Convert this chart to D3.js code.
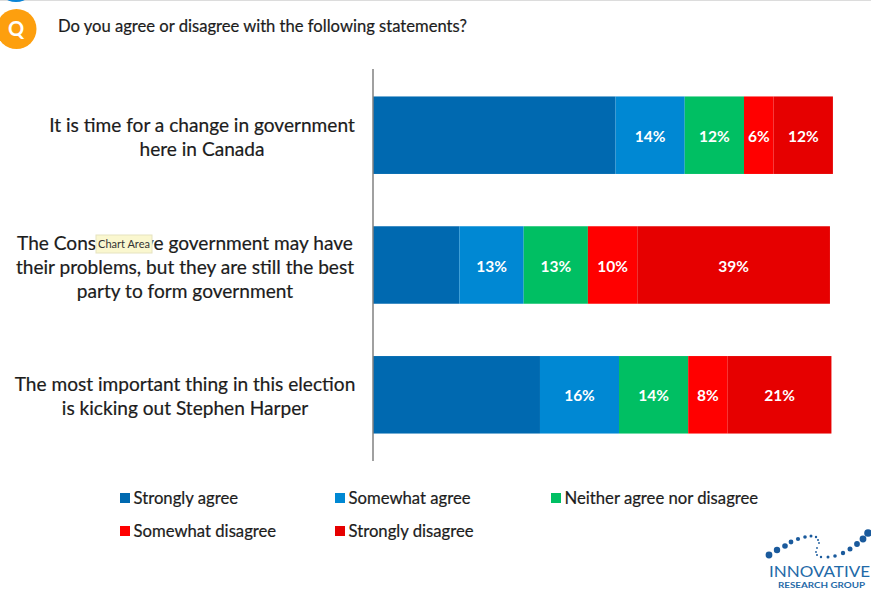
<!DOCTYPE html>
<html>
<head>
<meta charset="utf-8">
<script src="https://cdn.jsdelivr.net/npm/d3@7"></script>
<style>
html, body { margin: 0; padding: 0; background: #fff; }
svg { display: block; }
text { font-family: Lato, "Open Sans", sans-serif; }
.dark { fill: #1c1c1c; stroke: #1c1c1c; stroke-width: 0.2px; }
</style>
</head>
<body>
<svg id="chart" width="871" height="589"></svg>
<script>
// Survey responses, percent of respondents per statement
const questionText = "Do you agree or disagree with the following statements?";
const statements = ["change", "conservative", "harper"];
const statementLines = [
  ["It is time for a change in government", "here in Canada"],
  ["The Conservative government may have", "their problems, but they are still the best", "party to form government"],
  ["The most important thing in this election", "is kicking out Stephen Harper"]
];
const responses = ["Strongly agree", "Somewhat agree", "Neither agree nor disagree", "Somewhat disagree", "Strongly disagree"];
const stronglyAgree = [49.1, 17.5, 33.8];
const somewhatAgree = [14, 13, 16];
const neither = [12, 13, 14];
const somewhatDisagree = [6, 10, 8];
const stronglyDisagree = [12, 39, 21];
const responseColors = ["#0069b0", "#0088d3", "#00bf63", "#ff0000", "#e60000"];
// The first response carries no printed label
const labelled = [false, true, true, true, true];
const logoWave = [
  [769,555,3.4],[777,550,3.2],[785,546,2.8],[791,542,2.4],[798,539,2.1],[805,537,1.8],[811,536,1.5],[816,537,1.2],
  [818,540,1],[819,543,.9],[817,548,.9],[816,552,.9],[817,555,1],[821,557,1.2],[828,557,1.5],[835,556,1.8],
  [843,553,2.2],[850,549,2.5],[857,544,2.9],[863,539,3.4],[868,533,3.8]
];

const svg = d3.select("#chart");
const rows = [stronglyAgree, somewhatAgree, neither, somewhatDisagree, stronglyDisagree];

const x = d3.scaleLinear().domain([0, 100]).range([373, 867]);
const y = d3.scaleBand().domain(statements).range([70.5, 459.5]).paddingInner(0.403).paddingOuter(0.2);

// Header rule and the edge of the badge above it
svg.append("rect").attr("x", 0).attr("y", 0).attr("width", 871).attr("height", 1).attr("fill", "#dcdcdc");
svg.append("circle").attr("cx", 16).attr("cy", -18).attr("r", 20).attr("fill", "#0a84d6");

// Question badge and wording
svg.append("circle").attr("cx", 16.5).attr("cy", 29).attr("r", 20).attr("fill", "#fd9f0e");
svg.append("text").attr("x", 16).attr("y", 36).attr("text-anchor", "middle")
  .attr("font-size", 20).attr("font-weight", 700).attr("fill", "#fff").text("Q");
svg.append("text").attr("class", "dark").attr("x", 58).attr("y", 32).attr("font-size", 16.6).text(questionText);

// Stacked segments
const stacked = statements.map((s, i) => {
  let total = 0;
  return rows.map((row, r) => {
    const seg = { statement: s, r, value: row[i], start: total };
    total += row[i];
    return seg;
  });
}).flat();

svg.append("g").selectAll("rect").data(stacked).join("rect")
  .attr("x", d => x(d.start))
  .attr("y", d => y(d.statement))
  .attr("width", d => x(d.start + d.value) - x(d.start))
  .attr("height", y.bandwidth())
  .attr("fill", d => responseColors[d.r]);

svg.append("g").selectAll("text").data(stacked.filter(d => labelled[d.r])).join("text")
  .attr("x", d => x(d.start + d.value / 2))
  .attr("y", d => y(d.statement) + y.bandwidth() / 2 + 6.5)
  .attr("text-anchor", "middle")
  .attr("font-size", 15.5)
  .attr("font-weight", 700)
  .attr("fill", "#fff")
  .text(d => d.value + "%");

// Category axis line
svg.append("line").attr("x1", 373).attr("x2", 373).attr("y1", 69).attr("y2", 461)
  .attr("stroke", "#808080").attr("stroke-width", 1.5);

// Statement labels, one block per bar
const lineGap = 24;
statements.forEach((s, i) => {
  const lines = statementLines[i];
  const mid = y(s) + y.bandwidth() / 2;
  const cx = i === 0 ? 202 : 185;
  svg.append("g").selectAll("text").data(lines).join("text")
    .attr("class", "dark")
    .attr("x", cx)
    .attr("y", (d, k) => mid + (k - (lines.length - 1) / 2) * lineGap + 8.5)
    .attr("text-anchor", "middle")
    .attr("font-size", 19.1)
    .text(d => d);
});

// Hover note sitting over the second statement
const note = svg.append("g");
note.append("rect").attr("x", 96).attr("y", 235).attr("width", 56).attr("height", 18)
  .attr("fill", "#faf7cf").attr("stroke", "#e6e3c0").attr("stroke-width", 1);
note.append("text").attr("x", 124).attr("y", 248).attr("text-anchor", "middle")
  .attr("font-size", 11).attr("fill", "#333").text("Chart Area");

// Legend in two rows and three columns
const legendSlots = [[120, 498], [335, 498], [551, 498], [120, 531], [335, 531]];
const legend = svg.append("g").selectAll("g").data(responses).join("g")
  .attr("transform", (d, i) => `translate(${legendSlots[i][0]},${legendSlots[i][1]})`);
legend.append("rect").attr("x", 0).attr("y", -5).attr("width", 10).attr("height", 10)
  .attr("fill", (d, i) => responseColors[i]);
legend.append("text").attr("class", "dark").attr("x", 13.5).attr("y", 6).attr("font-size", 16.7).text(d => d);

// Company mark in the lower corner
const logo = svg.append("g");
logo.selectAll("circle").data(logoWave).join("circle")
  .attr("cx", d => d[0]).attr("cy", d => d[1]).attr("r", d => d[2]).attr("fill", "#1a5a9c");
logo.append("text").attr("x", 769).attr("y", 577).attr("font-size", 16)
  .attr("textLength", 101).attr("lengthAdjust", "spacingAndGlyphs")
  .attr("fill", "#1f6aa8").text("INNOVATIVE");
logo.append("text").attr("x", 778).attr("y", 588).attr("font-size", 7.5).attr("font-weight", 700)
  .attr("textLength", 87).attr("lengthAdjust", "spacingAndGlyphs")
  .attr("fill", "#1f6aa8").text("RESEARCH GROUP");
</script>
</body>
</html>
